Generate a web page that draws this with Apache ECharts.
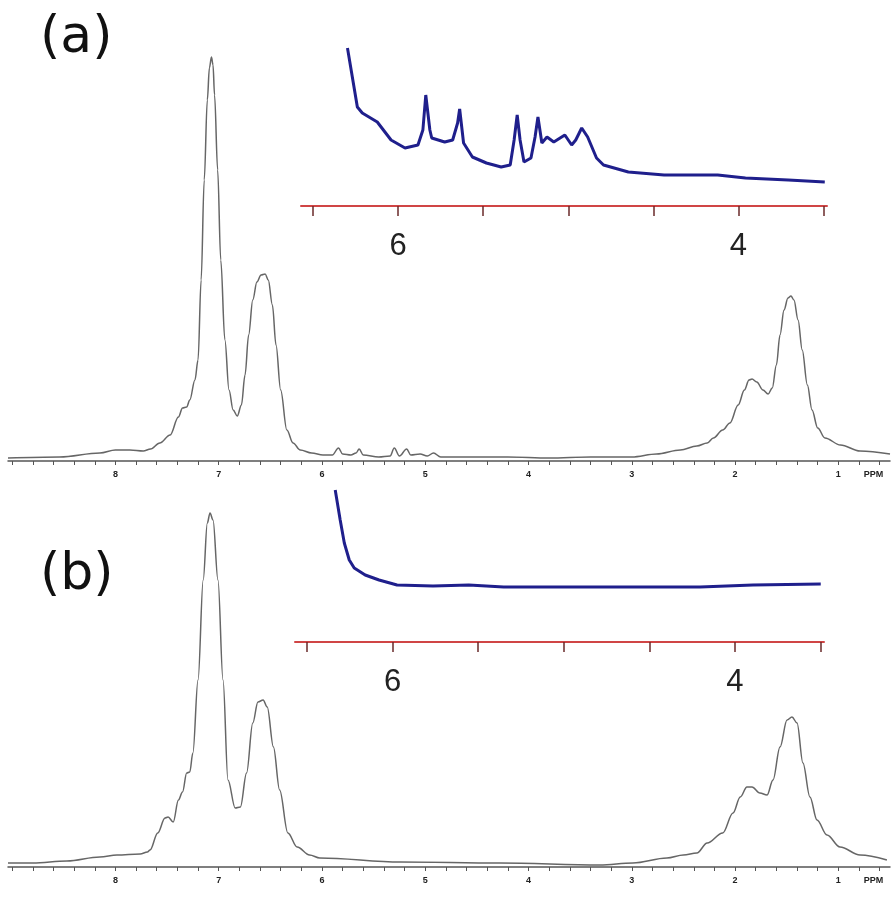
<!DOCTYPE html>
<html>
<head>
<meta charset="utf-8">
<script src="https://cdn.jsdelivr.net/npm/echarts@6/dist/echarts.min.js"></script>
<style>
  html, body { margin: 0; padding: 0; background: #fff; }
  #main { width: 895px; height: 912px; }
</style>
</head>
<body>
<div id="main"></div>
<script>
// spectra: [ppm, intensity]
var spectrumA = [
  [9.04, 3], [8.54, 4], [8.15, 8], [8.0, 11], [7.86, 11], [7.73, 10], [7.66, 12], [7.57, 18],
  [7.47, 26], [7.39, 44], [7.35, 53], [7.31, 54], [7.28, 61], [7.23, 81], [7.20, 101],
  [7.17, 181], [7.14, 281], [7.11, 361], [7.09, 393], [7.07, 404], [7.055, 396], [7.04, 366],
  [7.01, 291], [6.98, 201], [6.94, 121], [6.90, 71], [6.86, 51], [6.82, 45], [6.78, 56],
  [6.745, 86], [6.71, 126], [6.67, 161], [6.63, 179], [6.59, 186], [6.55, 187], [6.52, 181],
  [6.48, 156], [6.445, 116], [6.40, 71], [6.34, 31], [6.28, 18], [6.21, 11], [6.10, 8],
  [5.99, 6], [5.90, 6], [5.84, 13], [5.80, 7], [5.72, 6], [5.67, 8], [5.64, 12], [5.60, 6],
  [5.45, 4], [5.34, 5], [5.30, 13], [5.25, 5], [5.18, 12], [5.14, 6], [5.05, 7], [4.98, 5],
  [4.92, 8], [4.85, 4], [4.6, 4], [4.2, 4], [3.8, 3], [3.4, 4], [3.0, 4], [2.76, 7],
  [2.53, 11], [2.37, 15], [2.27, 18], [2.21, 23], [2.12, 31], [2.05, 38], [1.97, 56],
  [1.91, 71], [1.865, 81], [1.836, 82], [1.79, 79], [1.73, 71], [1.68, 67], [1.64, 73],
  [1.60, 96], [1.565, 126], [1.526, 151], [1.488, 163], [1.459, 165], [1.43, 161],
  [1.39, 141], [1.35, 111], [1.30, 76], [1.255, 51], [1.20, 33], [1.13, 23], [0.98, 16],
  [0.79, 10], [0.5, 7]
];
var spectrumB = [
  [9.04, 4], [8.80, 4], [8.47, 6], [8.15, 10], [7.985, 12], [7.76, 13], [7.69, 15], [7.665, 17],
  [7.59, 34], [7.52, 49], [7.49, 50], [7.44, 45], [7.39, 67], [7.35, 75], [7.31, 94],
  [7.28, 95], [7.25, 114], [7.20, 187], [7.15, 287], [7.11, 344], [7.084, 354], [7.055, 347],
  [7.007, 287], [6.958, 187], [6.91, 87], [6.84, 59], [6.79, 60], [6.73, 94], [6.67, 144],
  [6.62, 165], [6.57, 167], [6.53, 160], [6.47, 120], [6.41, 77], [6.33, 34], [6.24, 20],
  [6.12, 12], [6.02, 9], [5.24, 5], [4.28, 4], [3.31, 2], [2.99, 4], [2.66, 9], [2.50, 12],
  [2.37, 14], [2.27, 24], [2.12, 34], [2.02, 54], [1.95, 70], [1.885, 80], [1.836, 80],
  [1.76, 74], [1.69, 72], [1.633, 87], [1.565, 120], [1.497, 147], [1.449, 150], [1.40, 144],
  [1.343, 104], [1.275, 70], [1.207, 47], [1.11, 32], [0.984, 20], [0.79, 12], [0.53, 7]
];
var insetA = [
  [6.297, 158], [6.239, 99], [6.21, 93], [6.122, 84], [6.041, 66], [5.959, 58], [5.883, 61],
  [5.854, 76], [5.837, 111], [5.813, 76], [5.802, 68], [5.726, 64], [5.679, 66], [5.65, 83],
  [5.638, 97], [5.615, 63], [5.563, 49], [5.481, 43], [5.394, 39], [5.341, 41], [5.318, 66],
  [5.30, 91], [5.283, 66], [5.26, 44], [5.219, 48], [5.195, 69], [5.178, 89], [5.155, 63],
  [5.125, 69], [5.085, 64], [5.02, 71], [4.98, 61], [4.956, 66], [4.921, 78], [4.886, 69],
  [4.834, 48], [4.793, 41], [4.647, 34], [4.437, 31], [4.122, 31], [3.959, 28], [3.708, 26],
  [3.493, 24]
];
var insetB = [
  [6.335, 152], [6.306, 122], [6.282, 99], [6.253, 82], [6.224, 74], [6.16, 67], [6.079, 62],
  [5.974, 57], [5.764, 56], [5.555, 57], [5.351, 55], [4.932, 55], [4.518, 55], [4.204, 55],
  [3.895, 57], [3.499, 58]
];
// tick positions and labels
var mainTicks = [9.0, 8.8, 8.6, 8.4, 8.2, 8.0, 7.8, 7.6, 7.4, 7.2, 7.0, 6.8, 6.6, 6.4, 6.2,
  6.0, 5.8, 5.6, 5.4, 5.2, 5.0, 4.8, 4.6, 4.4, 4.2, 4.0, 3.8, 3.6, 3.4, 3.2, 3.0, 2.8, 2.6,
  2.4, 2.2, 2.0, 1.8, 1.6, 1.4, 1.2, 1.0, 0.8, 0.6];
var mainLabels = [8, 7, 6, 5, 4, 3, 2, 1, 0.66];
var insetTicks = [6.5, 6.0, 5.5, 5.0, 4.5, 4.0, 3.5];
var insetLabels = [6, 4];

var myChart = echarts.init(document.getElementById('main'));

function mainAxis(idx) {
  return {
    gridIndex: idx, type: 'value', min: 0.5, max: 9.04, inverse: true,
    axisLine: { lineStyle: { color: '#555', width: 1.5 } },
    axisTick: { customValues: mainTicks, length: 4, lineStyle: { color: '#555' } },
    axisLabel: {
      customValues: mainLabels, margin: 9, color: '#222', fontSize: 9, fontWeight: 'bold',
      fontFamily: 'Liberation Sans',
      formatter: function (v) { return v < 0.9 ? 'PPM' : String(v); }
    },
    splitLine: { show: false }
  };
}
function insetAxis(idx) {
  return {
    gridIndex: idx, type: 'value', min: 3.48, max: 6.57, inverse: true,
    axisLine: { lineStyle: { color: '#d04545', width: 2 } },
    axisTick: { customValues: insetTicks, length: 10, lineStyle: { color: '#6a2a2a', width: 1.5 } },
    axisLabel: {
      customValues: insetLabels, margin: 25, color: '#222', fontSize: 31,
      fontFamily: 'Liberation Sans Narrow, Liberation Sans'
    },
    splitLine: { show: false }
  };
}
function yAx(idx, max) {
  return { gridIndex: idx, type: 'value', min: 0, max: max, show: false };
}

var option = {
  animation: false,
  backgroundColor: '#fff',
  grid: [
    { left: 8, width: 882, top: 20, height: 441 },
    { left: 8, width: 882, top: 480, height: 387 },
    { left: 301, width: 526, top: 40, height: 166 },
    { left: 295, width: 529, top: 480, height: 162 }
  ],
  xAxis: [mainAxis(0), mainAxis(1), insetAxis(2), insetAxis(3)],
  yAxis: [yAx(0, 441), yAx(1, 387), yAx(2, 166), yAx(3, 162)],
  series: [
    { type: 'line', xAxisIndex: 0, yAxisIndex: 0, data: spectrumA, showSymbol: false,
      smooth: 0.35, smoothMonotone: 'x', lineStyle: { color: '#666', width: 1.5 } },
    { type: 'line', xAxisIndex: 1, yAxisIndex: 1, data: spectrumB, showSymbol: false,
      smooth: 0.35, smoothMonotone: 'x', lineStyle: { color: '#666', width: 1.5 } },
    { type: 'line', xAxisIndex: 2, yAxisIndex: 2, data: insetA, showSymbol: false,
      lineStyle: { color: '#1f1f8c', width: 3 } },
    { type: 'line', xAxisIndex: 3, yAxisIndex: 3, data: insetB, showSymbol: false,
      lineStyle: { color: '#1f1f8c', width: 3 } }
  ],
  graphic: [
    { type: 'text', left: 40, top: 12, style: { text: '(a)', fontSize: 52, fontFamily: 'DejaVu Sans', fill: '#111' } },
    { type: 'text', left: 40, top: 549, style: { text: '(b)', fontSize: 52, fontFamily: 'DejaVu Sans', fill: '#111' } }
  ]
};
myChart.setOption(option);
</script>
</body>
</html>
